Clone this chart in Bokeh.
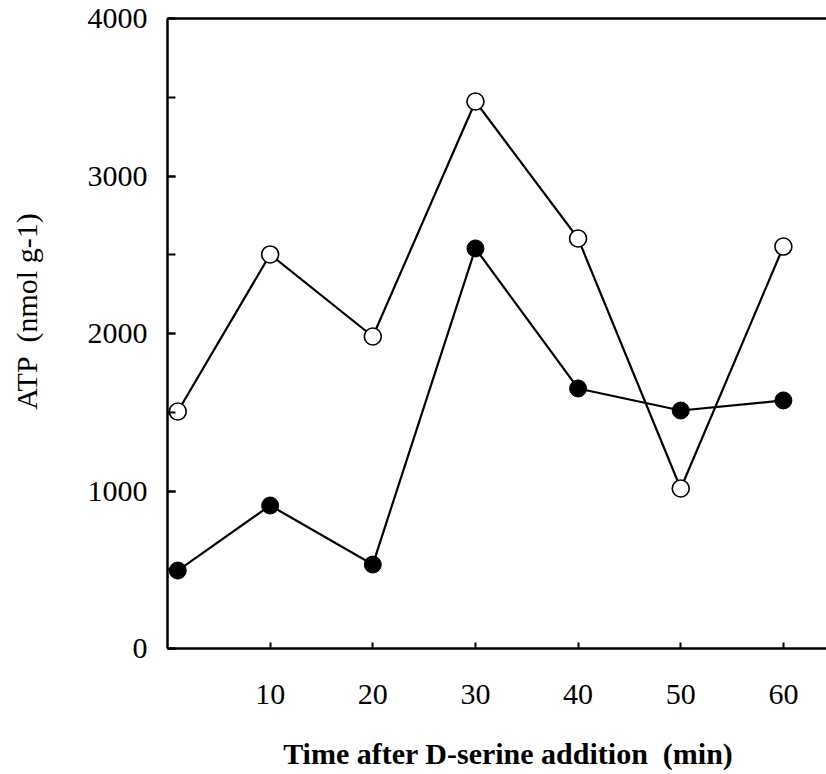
from bokeh.plotting import figure
from bokeh.models import Range1d, LinearAxis, FixedTicker, SingleIntervalTicker
from bokeh.embed import file_html
from bokeh.resources import INLINE

NB = "\u00a0"

# ---- data ----
time_min = [1, 10, 20, 30, 40, 50, 60]
atp_open = [1505, 2502, 1981, 3473, 2603, 1016, 2552]
atp_filled = [495, 908, 533, 2540, 1651, 1511, 1575]
x_ticks = [10, 20, 30, 40, 50, 60]
x_title = "Time after D-serine addition " + NB + "(min)"
y_title = "ATP " + NB + "(nmol g-1)"

FONT = "Liberation Serif"
W, H = 826, 774
FL, FT, FB, FR = 167, 18, 648, 826   # frame edges in px
XMAX, YMAX = 64.2, 4000

p = figure(width=W, height=H, output_backend="svg", toolbar_location=None,
           x_range=Range1d(0, XMAX), y_range=Range1d(0, YMAX),
           min_border_left=FL, min_border_right=W - FR, min_border_top=FT,
           min_border_bottom=H - FB)
p.outline_line_color = None
p.grid.visible = False
p.background_fill_color = "white"
p.border_fill_color = "white"

# series
p.line(time_min, atp_open, line_color="black", line_width=2.2)
p.line(time_min, atp_filled, line_color="black", line_width=2.2)
p.scatter(time_min, atp_open, size=17, marker="circle", fill_color="white",
          line_color="black", line_width=1.6)
p.scatter(time_min, atp_filled, size=17, marker="circle", fill_color="black",
          line_color="black", line_width=1)

# x axis
xa = p.xaxis[0]
xa.ticker = FixedTicker(ticks=x_ticks)
xa.axis_line_width = 2.5
xa.major_tick_in = 6
xa.major_tick_out = 0
xa.major_tick_line_width = 2
xa.minor_tick_in = 0
xa.minor_tick_out = 0
xa.major_label_standoff = 36
xa.major_label_text_font = FONT
xa.major_label_text_font_size = "30px"
xa.major_label_text_color = "black"
xa.axis_label = NB * 3 + x_title
xa.axis_label_standoff = 30
xa.axis_label_text_font = FONT
xa.axis_label_text_font_size = "30px"
xa.axis_label_text_font_style = "bold"
xa.axis_label_text_color = "black"

# y axis
ya = p.yaxis[0]
ya.ticker = SingleIntervalTicker(interval=1000, num_minor_ticks=2)
ya.axis_line_width = 2.5
ya.major_tick_in = 8
ya.major_tick_out = 0
ya.major_tick_line_width = 2
ya.minor_tick_in = 8
ya.minor_tick_out = 0
ya.minor_tick_line_width = 2
ya.minor_tick_line_color = "black"
ya.major_label_standoff = 20
ya.major_label_text_font = FONT
ya.major_label_text_font_size = "30px"
ya.major_label_text_color = "black"
ya.axis_label = NB * 6 + y_title
ya.axis_label_standoff = 42
ya.axis_label_text_font = FONT
ya.axis_label_text_font_size = "30px"
ya.axis_label_text_font_style = "normal"
ya.axis_label_text_color = "black"

# top spine
top = LinearAxis(ticker=FixedTicker(ticks=[]), axis_line_width=2.5,
                 major_tick_in=0, major_tick_out=0, minor_tick_in=0,
                 minor_tick_out=0, major_label_text_font_size="0px")
p.add_layout(top, "above")

open("out.html", "w").write(file_html(p, INLINE))
